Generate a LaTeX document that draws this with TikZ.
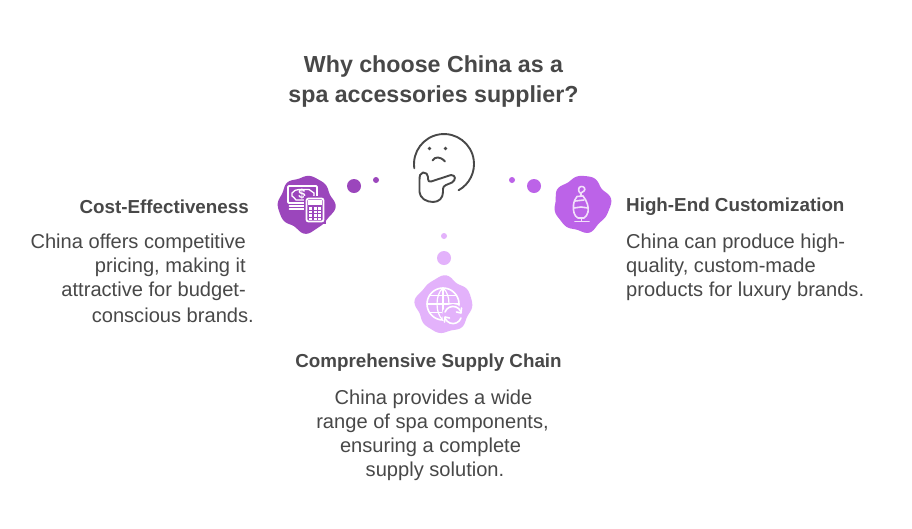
\documentclass[tikz,border=0pt]{standalone}
\usepackage{fontspec}
\setmainfont{Liberation Sans}
\definecolor{ink}{HTML}{484848}
\definecolor{pa}{HTML}{9B46BC}
\definecolor{pb}{HTML}{BC63E8}
\definecolor{pc}{HTML}{E3B2FB}
\tikzset{
  titletext/.style={text=ink,font=\bfseries\fontsize{23.2}{30}\selectfont,align=center,inner sep=0pt},
  headtext/.style={text=ink,font=\bfseries\fontsize{18.8}{24}\selectfont,inner sep=0pt},
  bodytext/.style={text=ink,font=\fontsize{20.1}{24}\selectfont,inner sep=0pt},
  iconline/.style={draw=#1,line width=1.6pt,line cap=round,line join=round},
  faceline/.style={draw=ink,line width=1.9pt,line cap=round,line join=round},
}
\newcommand{\blob}[4]{\fill[#3,shift={(#1,#2)}] plot[smooth cycle,domain=0:355,samples=72,variable=\t]
 ({(27.4+0.8*cos(4*\t)+1.1*sin(5*\t+#4)+0.8*sin(8*\t+2*#4))*cos(\t)},{(27.4+0.8*cos(4*\t)+1.1*sin(5*\t+#4)+0.8*sin(8*\t+2*#4))*sin(\t)});}
\begin{document}
\begin{tikzpicture}[x=1pt,y=-1pt]
\useasboundingbox[fill=white] (0,0) rectangle (912,528);
\node[titletext] (title) at (433.5,81.5) {Why choose China as a\\spa accessories supplier?};
% dots
\fill[pa] (354,186) circle (7);
\fill[pa] (376,180) circle (3);
\fill[pb] (534,186) circle (7);
\fill[pb] (512,180) circle (3);
\fill[pc] (444,258) circle (7);
\fill[pc] (444,236) circle (3);
% blobs
\blob{306}{204}{pa}{30}
\blob{582}{204}{pb}{100}
\blob{444}{305}{pc}{200}
% thinking face
\draw[faceline] (414.3,168.2) arc[start angle=172,end angle=421,radius=30];
\fill[ink] (429.5,148.5) circle (1.9);
\fill[ink] (445.5,148.5) circle (1.9);
\draw[faceline] (432.5,160.5) .. controls (435,156.5) and (440,156) .. (445,161.5);
\draw[faceline] (423,172.5) .. controls (420,173) and (419.5,176) .. (419.5,180)
  -- (419.5,192) .. controls (420,198) and (426,202) .. (433,202)
  .. controls (439,202) and (443,198) .. (443,192)
  -- (443,189) .. controls (443,187) and (444,186) .. (446,185)
  -- (452,182.5) .. controls (456,180) and (456,175) .. (451,175)
  -- (431,181.5) .. controls (429,182) and (428,181) .. (428,179)
  -- (428,177) .. controls (428,174) and (426,172.5) .. (423,172.5) -- cycle;
% money + calculator icon
\draw[iconline=white,line width=1.8pt,rounded corners=1pt] (288,186) rectangle (317,203);
\draw[iconline=white,line width=1.3pt] (292,193) .. controls (294,190.5) and (296,189.5) .. (299,189.5) -- (309,189.5) .. controls (311,191) and (312,192) .. (314,193) -- (314,196) .. controls (312,197) and (311,198) .. (309,200) -- (296,200) .. controls (295,198) and (293,197) .. (292,196) -- cycle;
\node[text=white,font=\bfseries\fontsize{13}{13}\selectfont,inner sep=0pt] (dollar) at (302,194.5) {\$};
\draw[iconline=white] (289.5,206) -- (305,206);
\draw[iconline=white] (289.5,209) -- (305,209);
\fill[pa] (304,196) rectangle (326,224);
\draw[iconline=white,line width=1.8pt,rounded corners=2pt,fill=pa] (306.5,198.5) rectangle (323.5,221.5);
\fill[white] (308,200) rectangle (322,205);
\foreach \cx in {310.5,315,319.5}{\foreach \cy in {208.5,212,215.5,219}{\fill[white] (\cx-1.5,\cy-1.1) rectangle (\cx+1.5,\cy+1.1);}}
% hanging product icon
\draw[iconline=white!80!pb] (580,193) .. controls (578,191) and (578,187) .. (581,186.5) .. controls (584,186) and (586,189) .. (584,191) -- (581,193) -- (581,196);
\draw[iconline=white!80!pb] (577,196.5) -- (583,196) .. controls (587,201) and (589,207) .. (588,212) .. controls (587,215) and (586,217) .. (584,218) -- (578,218) .. controls (574,216) and (573,211) .. (573.5,205) .. controls (574,201) and (575,199) .. (577,196.5) -- cycle;
\draw[iconline=white!80!pb] (574,208) -- (581,207) -- (588,208);
\draw[iconline=white!80!pb] (575,201) -- (584,200);
\draw[iconline=white!80!pb] (581.5,218) -- (581.5,221);
\draw[iconline=white!80!pb] (575,221.5) -- (589,221.5);
% globe icon
\draw[iconline=white] (443,304) circle (16);
\draw[iconline=white,line width=1.2pt] (443,288) .. controls (435,294) and (435,314) .. (443,320);
\draw[iconline=white,line width=1.2pt] (443,288) .. controls (451,294) and (451,314) .. (443,320);
\draw[iconline=white,line width=1.2pt] (443,288) -- (443,320);
\draw[iconline=white,line width=1.2pt] (430,295.5) -- (456,295.5);
\draw[iconline=white,line width=1.2pt] (427,304) -- (459,304);
\draw[iconline=white,line width=1.2pt] (430,312.5) -- (456,312.5);
\fill[pc] (453,315) circle (11);
\draw[iconline=white] (445,312) arc[start angle=200,end angle=335,radius=8.5];
\draw[iconline=white] (461,318) arc[start angle=20,end angle=155,radius=8.5];
\draw[iconline=white] (461.5,308) -- (461,313) -- (456.5,312);
\draw[iconline=white] (444.5,322) -- (445,317) -- (449.5,318);
% left text
\node[headtext,anchor=east] (h1) at (249,207) {Cost-Effectiveness};
\node[bodytext,anchor=east] (b1a) at (246,243) {China offers competitive};
\node[bodytext,anchor=east] (b1b) at (246,267) {pricing, making it};
\node[bodytext,anchor=east] (b1c) at (246,291) {attractive for budget-};
\node[bodytext,anchor=east] (b1d) at (254,315) {conscious brands.};
% right text
\node[headtext,anchor=west] (h2) at (626,207) {High-End Customization};
\node[bodytext,anchor=west] (b2a) at (626,243) {China can produce high-};
\node[bodytext,anchor=west] (b2b) at (626,267) {quality, custom-made};
\node[bodytext,anchor=west] (b2c) at (626,291) {products for luxury brands.};
% bottom text
\node[headtext] (h3) at (428.5,363) {Comprehensive Supply Chain};
\node[bodytext] (b3a) at (433.5,399) {China provides a wide};
\node[bodytext] (b3b) at (432.5,423) {range of spa components,};
\node[bodytext] (b3c) at (430.5,447) {ensuring a complete};
\node[bodytext] (b3d) at (435,471) {supply solution.};
\end{tikzpicture}
\end{document}
